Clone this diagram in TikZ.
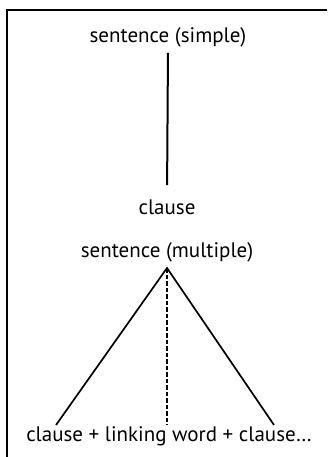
\documentclass[tikz,border=0pt]{standalone}
\usepackage{fontspec}
\setmainfont{PT Sans}
\usetikzlibrary{positioning}

\begin{document}
\begin{tikzpicture}[x=1pt, y=-1pt,
    lbl/.style={font=\fontsize{21}{24}\selectfont, inner sep=0pt, anchor=base},
    stem/.style={line width=2pt},
    leg/.style={line width=1.7pt},
    link/.style={line width=1.6pt, dash pattern=on 4.5pt off 2pt}]
    \useasboundingbox (0,0) rectangle (327,457);

    % Frame (left and top edges only)
    \draw[line width=2pt] (7,457) -- (7,10) -- (327,10);

    % Simple sentence
    \node[lbl] (simple) at (168,43) {sentence (simple)};
    \node[lbl] (clause) at (167,214) {clause};
    \draw[stem, shorten <=5pt, shorten >=14pt] (simple.south) -- (clause.north);

    % Multiple sentence
    \node[lbl] (multiple) at (167,257) {sentence (multiple)};
    \node[lbl] (parts) at (169,441) {clause + linking word + clause\dots};

    \coordinate (apex) at (167,268);
    \coordinate (leftfoot) at (56,425);
    \coordinate (midfoot) at (167,425);
    \coordinate (rightfoot) at (274,425);

    \draw[leg] (leftfoot) -- (apex) -- (rightfoot);
    \draw[link] (apex) -- (midfoot);
\end{tikzpicture}
\end{document}
